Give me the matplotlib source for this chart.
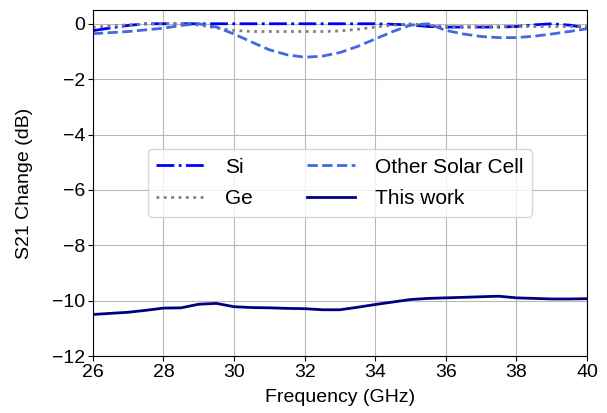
import matplotlib
matplotlib.use("Agg")
import matplotlib.pyplot as plt

plt.rcParams['font.family'] = ['Liberation Sans', 'DejaVu Sans']

freq = [26, 26.5, 27, 27.5, 28, 28.5, 29, 29.5, 30, 30.5, 31, 31.5, 32, 32.5, 33,
        33.5, 34, 34.5, 35, 35.5, 36, 36.5, 37, 37.5, 38, 38.5, 39, 39.5, 40]

si = [-0.25, -0.15, -0.06, 0.0, 0.0, 0.0, 0.0, 0.0, 0.0, 0.0, 0.0, 0.0, 0.0, 0.0, 0.0,
      0.0, 0.0, -0.02, -0.04, -0.1, -0.12, -0.12, -0.12, -0.12, -0.1, -0.04, 0.0, -0.05, -0.15]

ge = [-0.13, -0.08, -0.04, -0.01, 0.0, 0.0, -0.05, -0.15, -0.24, -0.28, -0.28, -0.28, -0.28,
      -0.28, -0.26, -0.2, -0.12, -0.05, 0.0, -0.05, -0.1, -0.1, -0.1, -0.1, -0.1, -0.1, -0.1,
      -0.1, -0.1]

other = [-0.36, -0.32, -0.28, -0.22, -0.16, -0.06, 0.0, -0.12, -0.37, -0.66, -0.94, -1.12,
         -1.21, -1.17, -1.04, -0.82, -0.55, -0.28, -0.05, 0.0, -0.24, -0.37, -0.46, -0.5,
         -0.5, -0.45, -0.37, -0.28, -0.18]

this_work = [-10.5, -10.46, -10.42, -10.35, -10.27, -10.26, -10.13, -10.1, -10.22, -10.25,
             -10.26, -10.28, -10.29, -10.33, -10.33, -10.24, -10.14, -10.05, -9.96, -9.92,
             -9.9, -9.88, -9.86, -9.84, -9.9, -9.92, -9.94, -9.94, -9.93]

fig = plt.figure(figsize=(6.07, 4.13), dpi=100)
ax = fig.add_axes([0.153, 0.138, 0.814, 0.838])

ax.plot(freq, si, linestyle='-.', color='#0000ff', lw=2, label='Si')
ax.plot(freq, ge, linestyle=':', color='#808080', lw=2, label='Ge')
ax.plot(freq, other, linestyle='--', color='#4169e1', lw=2, label='Other Solar Cell')
ax.plot(freq, this_work, linestyle='-', color='#000080', lw=2, label='This work')

ax.set_xlim(26, 40)
ax.set_ylim(-12, 0.5)
ax.set_xticks(range(26, 41, 2))
ax.set_yticks(range(-12, 1, 2))
ax.grid(True, color='#b8b8b8', lw=0.8)
ax.tick_params(labelsize=14, pad=2)
ax.set_xlabel('Frequency (GHz)', fontsize=14, labelpad=6)
ax.set_ylabel('S21 Change (dB)', fontsize=14, labelpad=14)
ax.legend(loc='center', ncol=2, fontsize=15, handlelength=2.3, handletextpad=1.0,
          columnspacing=2.6, labelspacing=0.6)

fig.savefig('out.png', dpi=100)
